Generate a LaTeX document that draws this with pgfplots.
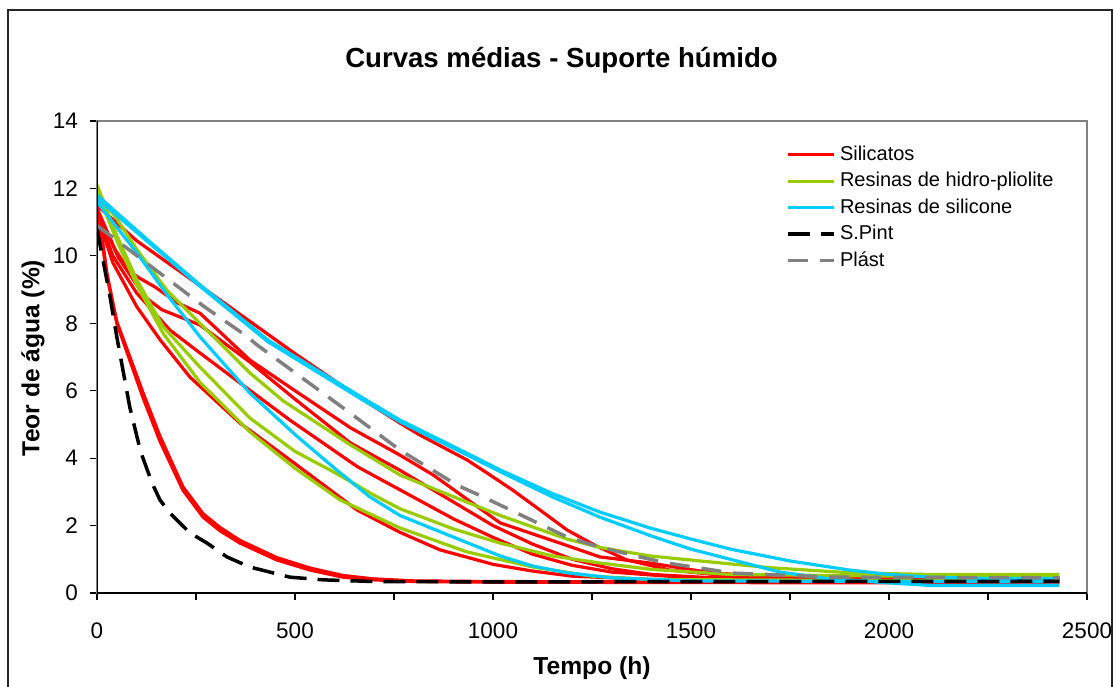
\documentclass[border=0pt]{standalone}
\usepackage{fontspec}
\setmainfont{Liberation Sans}
\usepackage{pgfplots}
\pgfplotsset{compat=1.18}
\definecolor{cred}{RGB}{255,0,0}
\definecolor{cgreen}{RGB}{153,204,0}
\definecolor{ccyan}{RGB}{0,204,255}
\definecolor{cgray}{RGB}{128,128,128}
\begin{document}
\begin{tikzpicture}
\useasboundingbox (0pt,0pt) rectangle (557pt,343pt);
\draw[line width=0.7pt, black!85] (4pt,338pt) rectangle (556pt,-10pt);
\begin{axis}[
  at={(48.5pt,46.5pt)}, anchor=south west,
  scale only axis, width=495pt, height=236pt,
  xmin=0, xmax=2500, ymin=0, ymax=14,
  xtick={0,500,...,2500}, minor xtick={250,750,...,2250},
  ytick={0,2,...,14},
  tick align=outside, xtick pos=bottom, ytick pos=left,
  major tick length=3.5pt, minor tick length=3.5pt,
  tick style={black, line width=0.6pt},
  axis line style={cgray, line width=0.8pt},
  ticklabel style={font=\fontsize{11.25}{13}\selectfont},
  xticklabel style={yshift=-8pt},
  yticklabel style={xshift=-2.5pt},
  /pgf/number format/assume math mode=true,
  /pgf/number format/set thousands separator={},
  legend style={at={(rel axis cs:0.69,0.965)}, anchor=north west, draw=none, fill=none,
    font=\fontsize{10}{12}\selectfont, row sep=0.5pt},
  legend cell align=left,
  legend image code/.code={\draw[#1] (0pt,0pt) -- (23pt,0pt);},
  every axis plot/.append style={line width=1.6pt},
]
% Silicatos (red)
\addplot[cred] coordinates {(0,11.5)(100,10.45)(250,9.2)(500,7.1)(650,5.9)(765,5.04)(813,4.7)(934,3.95)(985,3.56)(1050,3.05)(1120,2.45)(1187,1.87)(1260,1.4)(1338,0.98)(1447,0.68)(1600,0.5)(1800,0.45)(2430,0.45)};
\addlegendentry{Silicatos}
\addplot[cred, forget plot] coordinates {(0,11.4)(45,10.2)(78,9.6)(103,9.37)(146,9.08)(204,8.6)(260,8.3)(386,6.91)(500,6.0)(640,4.9)(765,4.09)(849,3.5)(1018,2.08)(1169,1.48)(1270,1.07)(1396,0.89)(1550,0.6)(1750,0.45)(2430,0.42)};
\addplot[cred, forget plot] coordinates {(0,11.4)(53,9.97)(121,8.78)(164,8.4)(260,7.95)(386,6.85)(500,5.75)(640,4.45)(765,3.64)(900,2.7)(1000,2.0)(1100,1.45)(1200,1.0)(1300,0.72)(1400,0.55)(1600,0.42)(2430,0.4)};
\addplot[cred, forget plot] coordinates {(0,11.3)(40,10.0)(100,8.9)(184,7.8)(260,7.12)(361,6.23)(487,5.13)(657,3.75)(765,3.06)(900,2.2)(1000,1.65)(1100,1.15)(1200,0.82)(1300,0.62)(1500,0.45)(2430,0.42)};
\addplot[cred, forget plot] coordinates {(0,11.2)(40,9.8)(100,8.5)(160,7.5)(235,6.4)(361,5.04)(487,3.95)(657,2.46)(765,1.8)(866,1.28)(1000,0.85)(1100,0.65)(1200,0.5)(1400,0.4)(2430,0.38)};
\addplot[cred, forget plot] coordinates {(0,11.5)(12,10.6)(25,9.5)(50,8.0)(83,6.9)(116,5.8)(159,4.5)(217,3.05)(268,2.25)(310,1.85)(361,1.48)(454,0.98)(538,0.68)(621,0.47)(697,0.39)(800,0.34)(1000,0.32)(1500,0.31)(2000,0.3)(2430,0.3)};
\addplot[cred, forget plot] coordinates {(0,11.4)(12,10.5)(25,9.4)(50,8.05)(83,7.0)(116,5.95)(159,4.65)(217,3.15)(268,2.35)(310,1.95)(361,1.56)(454,1.05)(538,0.74)(621,0.52)(697,0.42)(800,0.36)(1000,0.34)(1500,0.33)(2430,0.32)};
% Resinas de hidro-pliolite (green)
\addplot[cgreen] coordinates {(0,11.9)(50,11.1)(100,10.2)(175,9.0)(260,8.0)(386,6.53)(470,5.7)(639,4.4)(765,3.5)(859,3.05)(1018,2.3)(1187,1.6)(1270,1.35)(1396,1.1)(1523,0.95)(1700,0.75)(1901,0.6)(2100,0.55)(2430,0.55)};
\addlegendentry{Resinas de hidro-pliolite}
\addplot[cgreen, forget plot] coordinates {(0,12.1)(50,10.6)(100,9.3)(167,7.9)(260,6.7)(386,5.19)(500,4.2)(596,3.6)(700,2.9)(765,2.5)(900,1.9)(1018,1.48)(1150,1.1)(1270,0.89)(1400,0.7)(1600,0.55)(2000,0.5)(2430,0.5)};
\addplot[cgreen, forget plot] coordinates {(0,11.9)(50,10.45)(100,9.15)(167,7.7)(260,6.25)(386,4.78)(500,3.7)(614,2.76)(765,1.93)(934,1.22)(1101,0.77)(1250,0.5)(1400,0.4)(2430,0.35)};
% Resinas de silicone (cyan)
\addplot[ccyan] coordinates {(0,11.8)(130,10.45)(260,9.14)(432,7.5)(672,5.78)(765,5.13)(942,4.1)(1018,3.65)(1150,2.95)(1270,2.4)(1396,1.93)(1500,1.6)(1600,1.3)(1750,0.95)(1901,0.68)(2000,0.55)(2100,0.47)(2250,0.43)(2430,0.43)};
\addlegendentry{Resinas de silicone}
\addplot[ccyan, forget plot] coordinates {(0,11.7)(130,10.4)(260,9.1)(432,7.45)(672,5.72)(765,5.08)(942,4.05)(1018,3.6)(1150,2.85)(1270,2.25)(1400,1.69)(1500,1.3)(1606,0.98)(1725,0.62)(1850,0.42)(2000,0.3)(2111,0.22)(2430,0.22)};
\addplot[ccyan, forget plot] coordinates {(0,11.6)(100,10.1)(180,8.8)(260,7.6)(386,5.93)(500,4.7)(600,3.7)(689,2.85)(765,2.3)(891,1.7)(1018,1.1)(1100,0.8)(1187,0.6)(1300,0.45)(1500,0.36)(2430,0.33)};
% S.Pint
\addplot[black, line width=1.75pt, dash pattern=on 11pt off 5.5pt] coordinates {(0,10.8)(15,9.88)(33,8.78)(50,7.6)(83,5.5)(110,4.2)(139,3.26)(159,2.76)(184,2.37)(235,1.78)(278,1.48)(328,1.07)(386,0.77)(487,0.47)(571,0.39)(700,0.34)(1000,0.33)(2430,0.35)};
\addlegendentry{S.Pint}
% Plast
\addplot[cgray, line width=1.75pt, dash pattern=on 10pt off 6pt] coordinates {(0,10.9)(45,10.5)(71,10.27)(172,9.37)(270,8.5)(374,7.65)(404,7.36)(639,5.34)(765,4.24)(909,3.2)(975,2.85)(1187,1.66)(1270,1.36)(1371,1.07)(1439,0.89)(1606,0.59)(1859,0.47)(2430,0.45)};
\addlegendentry{Plást}
\draw[black, line width=0.8pt] (rel axis cs:0,1) -- (rel axis cs:0,0) -- (rel axis cs:1,0);
\end{axis}
\node[font=\fontsize{13.8}{16}\selectfont\bfseries] at (280.75pt,313pt) {Curvas médias - Suporte húmido};
\node[font=\fontsize{12.3}{14}\selectfont\bfseries] at (296pt,9pt) {Tempo (h)};
\node[font=\fontsize{12.3}{14}\selectfont\bfseries, rotate=90] at (16.5pt,164pt) {Teor de água (\%)};
\end{tikzpicture}
\end{document}
